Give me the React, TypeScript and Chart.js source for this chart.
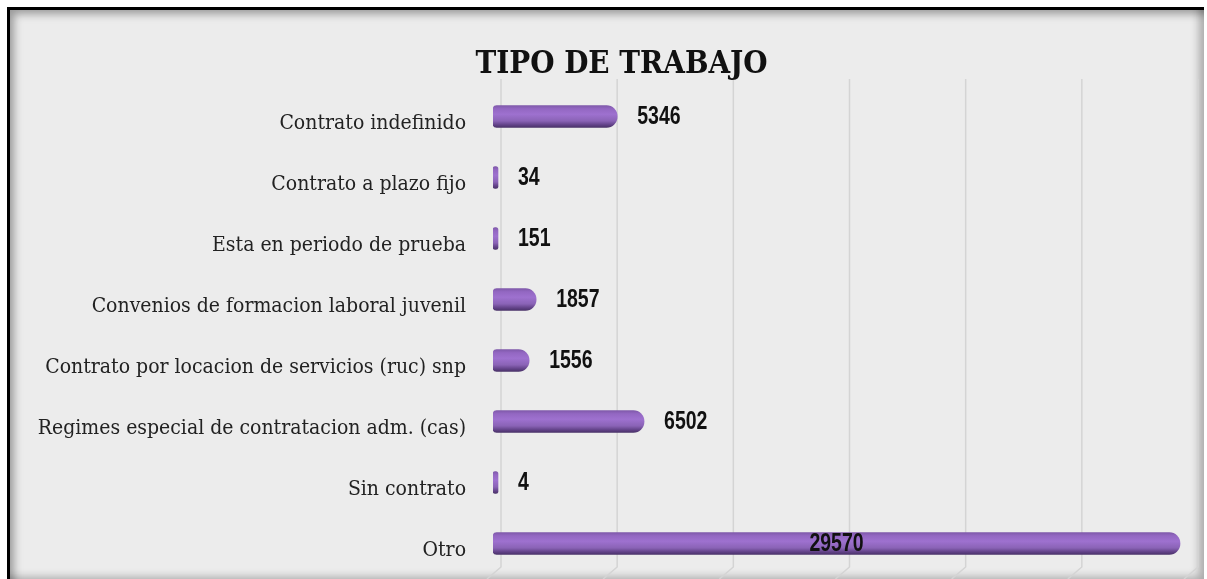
import React, { useEffect, useRef } from "react";
import { Chart, registerables } from "chart.js";

Chart.register(...registerables);

const TITLE = "TIPO DE TRABAJO";
const categories = [
  "Contrato indefinido",
  "Contrato a plazo fijo",
  "Esta en periodo de prueba",
  "Convenios de formacion laboral juvenil",
  "Contrato por locacion de servicios (ruc) snp",
  "Regimes especial de contratacion adm. (cas)",
  "Sin contrato",
  "Otro",
];
const values = [5346, 34, 151, 1857, 1556, 6502, 4, 29570];
const X_MIN = 0;
const X_MAX = 30000;
const X_STEP = 5000;

const DEPTH = 8;
const BAR_H = 22;
const LABEL_FONT = "'DejaVu Serif Condensed', 'DejaVu Serif', serif";
const VALUE_FONT = "'Liberation Sans', Arial, sans-serif";
const VALUE_SQUEEZE = 0.78;

export default function App() {
  const ref = useRef<HTMLCanvasElement | null>(null);

  useEffect(() => {
    document.body.style.margin = "0";
    const canvas = ref.current;
    if (!canvas) return;

    const barFill = (c: any) => {
      const chart = c.chart;
      const y = chart.scales && chart.scales.y;
      if (!y || c.dataIndex === undefined || c.type !== "data") return "#9468c2";
      const cy = y.getPixelForValue(c.dataIndex);
      if (!isFinite(cy)) return "#9468c2";
      const g = chart.ctx.createLinearGradient(0, cy - BAR_H / 2, 0, cy + BAR_H / 2);
      g.addColorStop(0, "#7f59aa");
      g.addColorStop(0.15, "#9367c2");
      g.addColorStop(0.4, "#9e71cf");
      g.addColorStop(0.7, "#8a63b6");
      g.addColorStop(0.88, "#624288");
      g.addColorStop(1, "#4a3269");
      return g;
    };

    const gridPlugin = {
      id: "grid3d",
      beforeDatasetsDraw(chart: any) {
        const { ctx, chartArea, scales } = chart;
        const x = scales.x;
        ctx.save();
        ctx.strokeStyle = "#d4d4d4";
        ctx.lineWidth = 1.5;
        x.ticks.forEach((t: any) => {
          const px = x.getPixelForValue(t.value) + DEPTH;
          ctx.beginPath();
          ctx.moveTo(px, chartArea.top - 7);
          ctx.lineTo(px, chartArea.bottom - 7);
          ctx.lineTo(px - DEPTH - 6, chartArea.bottom + 5);
          ctx.stroke();
        });
        ctx.restore();
      },
    };

    const titlePlugin = {
      id: "titleDraw",
      afterDraw(chart: any) {
        const { ctx, chartArea } = chart;
        ctx.save();
        ctx.font = "bold 31px " + LABEL_FONT;
        ctx.fillStyle = "#111";
        ctx.textAlign = "center";
        ctx.textBaseline = "alphabetic";
        ctx.fillText(TITLE, chart.width / 2 + 18, chartArea.top - 13);
        ctx.restore();
      },
    };

    const valuePlugin = {
      id: "valueLabels",
      afterDatasetsDraw(chart: any) {
        const { ctx, chartArea } = chart;
        const meta = chart.getDatasetMeta(0);
        ctx.save();
        ctx.font = "bold 25px " + VALUE_FONT;
        ctx.fillStyle = "#111";
        ctx.textBaseline = "middle";
        ctx.textAlign = "left";
        meta.data.forEach((el: any, i: number) => {
          const txt = String(values[i]);
          const w = ctx.measureText(txt).width * VALUE_SQUEEZE;
          let lx = el.x + 20;
          if (lx + w > chartArea.right) {
            lx = (el.base + el.x) / 2 - w / 2;
          }
          ctx.save();
          ctx.translate(lx, el.y + 1);
          ctx.scale(VALUE_SQUEEZE, 1);
          ctx.fillText(txt, 0, 0);
          ctx.restore();
        });
        ctx.restore();
      },
    };

    const chart = new Chart(canvas, {
      type: "bar",
      data: {
        labels: categories,
        datasets: [
          {
            data: values,
            backgroundColor: barFill,
            borderWidth: 0,
            borderSkipped: false,
            borderRadius: { topLeft: 4, bottomLeft: 4, topRight: 11, bottomRight: 11 },
            barThickness: BAR_H,
            minBarLength: 5,
          },
        ],
      },
      options: {
        indexAxis: "y",
        animation: false,
        responsive: false,
        layout: { padding: { top: 86, bottom: 5, left: 0, right: 17 } },
        plugins: { legend: { display: false }, title: { display: false }, tooltip: { enabled: false } },
        scales: {
          x: {
            min: X_MIN,
            max: X_MAX,
            display: false,
            ticks: { stepSize: X_STEP },
          },
          y: {
            grid: { display: false },
            border: { display: false },
            ticks: {
              padding: 19,
              labelOffset: 7,
              color: "#222",
              font: { family: LABEL_FONT, size: 21 },
            },
            afterFit: (scale: any) => {
              scale.width = 493;
              scale.paddingTop = 0;
              scale.paddingBottom = 0;
            },
          },
        },
      },
      plugins: [gridPlugin, valuePlugin, titlePlugin],
    } as any);

    return () => chart.destroy();
  }, []);

  return (
    <div style={{ position: "fixed", left: 0, top: 0, width: 1207, height: 579, background: "#fff", overflow: "hidden" }}>
      <div
        style={{
          position: "absolute",
          left: 7,
          top: 7,
          width: 1197,
          height: 575,
          boxSizing: "border-box",
          borderTop: "3px solid #000",
          borderLeft: "3px solid #000",
          background: "#ececec",
          boxShadow:
            "inset 7px 7px 8px -3px rgba(0,0,0,0.35), inset -9px -9px 8px -4px rgba(0,0,0,0.28)",
        }}
      />
      <canvas
        ref={ref}
        width={1207}
        height={579}
        style={{ position: "absolute", left: 0, top: 0, display: "block" }}
      />
    </div>
  );
}
